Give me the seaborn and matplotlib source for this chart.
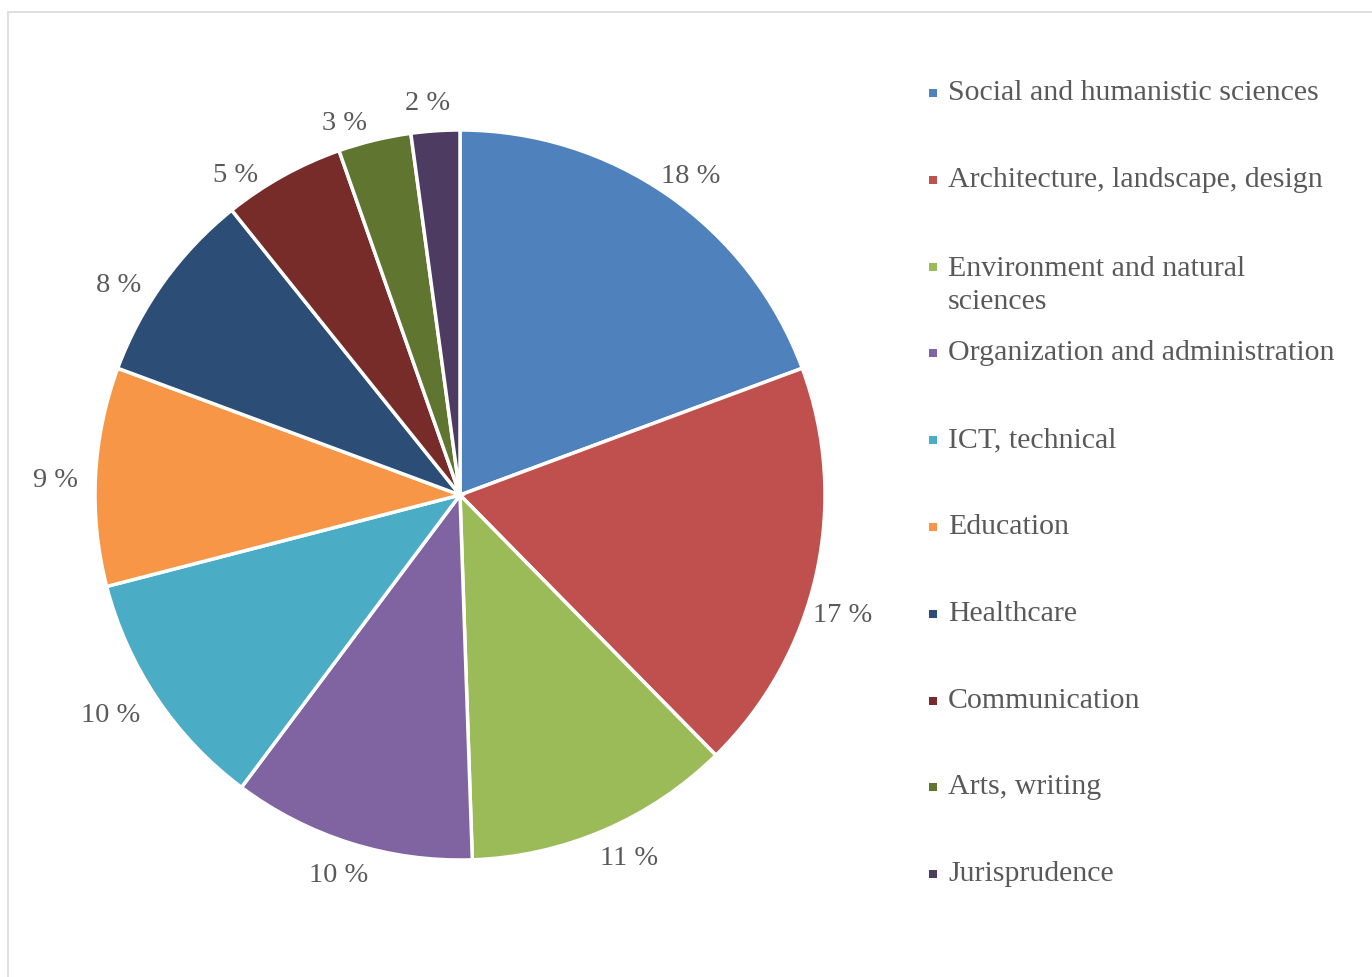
import matplotlib
matplotlib.use("Agg")
import matplotlib.pyplot as plt
from matplotlib.patches import Rectangle
import seaborn as sns

sns.set_theme(style="white")
plt.rcParams['font.family'] = ['Liberation Serif', 'DejaVu Serif']

categories = ["Social and humanistic sciences", "Architecture, landscape, design",
              "Environment and natural\nsciences", "Organization and administration",
              "ICT, technical", "Education", "Healthcare", "Communication",
              "Arts, writing", "Jurisprudence"]
shares = [18, 17, 11, 10, 10, 9, 8, 5, 3, 2]
pct_labels = [f"{v} %" for v in shares]
colors = ["#4F81BD", "#C0504D", "#9BBB59", "#8064A2", "#4BACC6",
          "#F79646", "#2C4D75", "#772C2A", "#5F7530", "#4D3B62"]
text_gray = "#595959"
# Excel's own label placement is not exactly at mid-angle: nudges in px (right, down)
label_nudge = [(2, 10), (-7, 33), (11, -4), (-2, -1), (-18, -2),
               (-5, 6), (-17, 24), (-30, 30), (-22, 17), (-5, 7)]

W, H = 1372, 977
fig = plt.figure(figsize=(W / 100, H / 100), dpi=100)

# light chart-area border
fig.patches.append(Rectangle((8 / W, -0.1), 1.2, (H - 12) / H + 0.1, transform=fig.transFigure,
                             fill=False, edgecolor="#D9D9D9", linewidth=1.2))

cx, cy, r = 460, 495, 365
ax = fig.add_axes([(cx - r) / W, (H - cy - r) / H, 2 * r / W, 2 * r / H])
wedges, texts = ax.pie(shares, labels=pct_labels, colors=colors, startangle=90,
                       counterclock=False, labeldistance=1.095,
                       wedgeprops=dict(edgecolor="white", linewidth=2.5),
                       textprops=dict(color=text_gray, fontsize=20.5))
for t, (dx, dy) in zip(texts, label_nudge):
    x, y = t.get_position()
    t.set_position((x + dx / r, y - dy / r))
    t.set_ha("center")
    t.set_va("center")
ax.set_xlim(-1, 1)
ax.set_ylim(-1, 1)
ax.set_axis_off()

# legend, Excel style: fixed pitch per entry
y0, pitch = 93, 86.8
for i, (lab, col) in enumerate(zip(categories, colors)):
    y = y0 + pitch * i
    fig.patches.append(Rectangle((929 / W, 1 - (y + 4) / H), 8 / W, 8 / H,
                                 transform=fig.transFigure, facecolor=col, edgecolor="none"))
    if "\n" in lab:
        fig.text(948 / W, 1 - (y - 11) / H, lab, color=text_gray, fontsize=21.5,
                 ha="left", va="top", linespacing=1.38)
    else:
        fig.text(948 / W, 1 - y / H, lab, color=text_gray, fontsize=21.5,
                 ha="left", va="center")

fig.savefig("out.png", dpi=100)
